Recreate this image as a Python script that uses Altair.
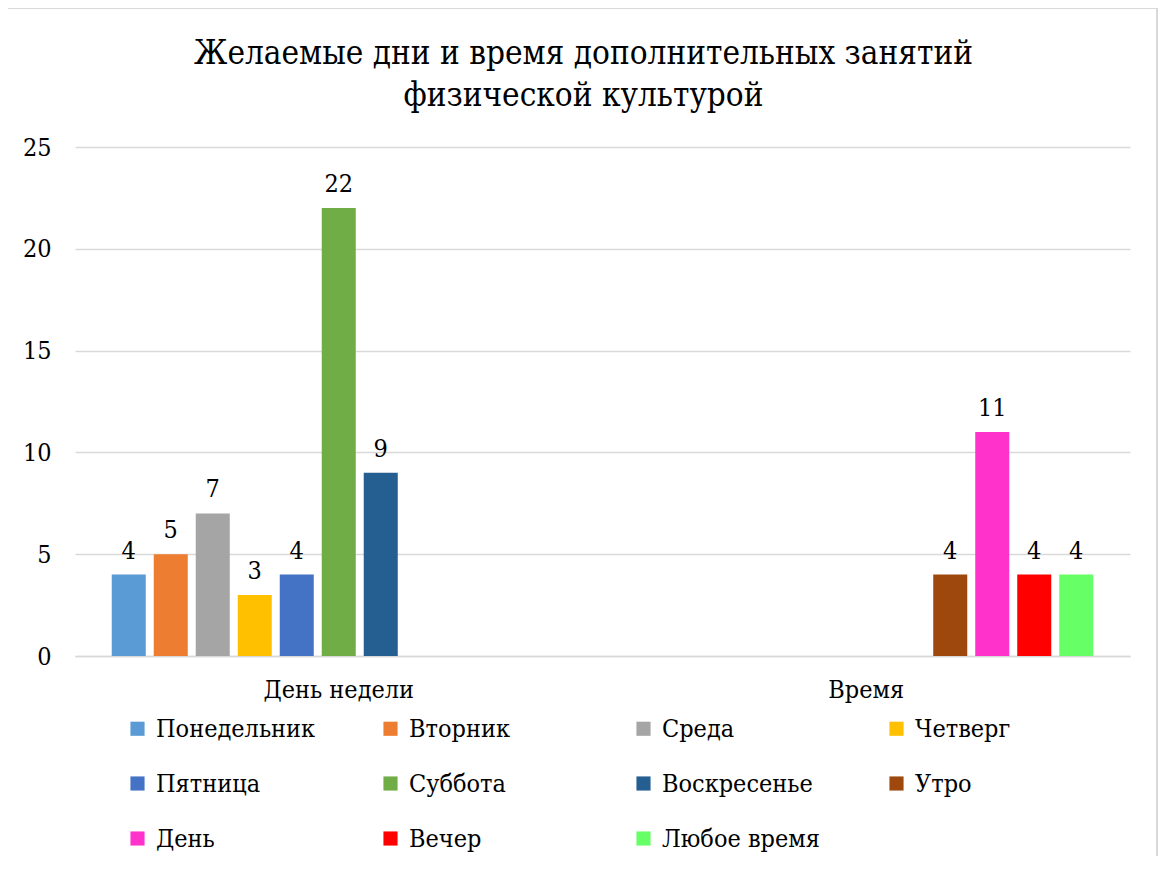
import altair as alt
import pandas as pd

categories = ["День недели", "Время"]
series = ["Понедельник", "Вторник", "Среда", "Четверг", "Пятница", "Суббота",
          "Воскресенье", "Утро", "День", "Вечер", "Любое время"]
colors = ["#5B9BD5", "#ED7D31", "#A5A5A5", "#FFC000", "#4472C4", "#70AD47",
          "#255E91", "#9E480E", "#FF33CC", "#FF0000", "#66FF66"]
day_values = [4, 5, 7, 3, 4, 22, 9, None, None, None, None]
time_values = [None, None, None, None, None, None, None, 4, 11, 4, 4]
title_lines = ["Желаемые дни и время дополнительных занятий", "физической культурой"]

rows = []
for cat, vals in zip(categories, [day_values, time_values]):
    for s, v in zip(series, vals):
        if v is not None:
            rows.append({"cat": cat, "series": s, "value": v})
df = pd.DataFrame(rows)

FONT = "DejaVu Serif Condensed"
FS = 25

x = alt.X("cat:N", sort=categories, title=None,
          scale=alt.Scale(paddingInner=0, paddingOuter=0),
          axis=alt.Axis(labelAngle=0, ticks=False, domain=True, domainColor="#D9D9D9",
                        domainWidth=1.5, labelFontSize=FS, labelFont=FONT, labelColor="#000000",
                        labelPadding=21, grid=False))
xo = alt.XOffset("series:N", sort=series,
                 scale=alt.Scale(domain=series, paddingInner=0.19, paddingOuter=0.875))
y = alt.Y("value:Q", title=None,
          scale=alt.Scale(domain=[0, 25]),
          axis=alt.Axis(values=[0, 5, 10, 15, 20, 25], ticks=False, domain=False,
                        gridColor="#D9D9D9", gridWidth=1.5, labelFontSize=FS, labelFont=FONT,
                        labelColor="#000000", labelPadding=24))

bars = alt.Chart(df).mark_bar().encode(
    x=x, xOffset=xo, y=y,
    color=alt.Color("series:N", sort=series,
                    scale=alt.Scale(domain=series, range=colors),
                    legend=alt.Legend(title=None, orient="none", legendX=50, legendY=569,
                                      columns=4, direction="horizontal", gridAlign="all",
                                      columnPadding=62, rowPadding=29,
                                      symbolType="square", symbolSize=200, symbolStrokeWidth=0,
                                      symbolOffset=0,
                                      labelFont=FONT, labelFontSize=FS, labelColor="#000000",
                                      labelLimit=300, labelOffset=6)),
)

labels = alt.Chart(df).mark_text(font=FONT, fontSize=FS, color="#000000",
                                 baseline="alphabetic", dy=-16).encode(
    x=x, xOffset=xo, y=y, text=alt.Text("value:Q"))

frame = alt.Chart(df).mark_rect(fill=None, stroke="#D9D9D9", strokeWidth=1.5).encode(
    x=alt.value(-68), x2=alt.value(1082), y=alt.value(-139), y2=alt.value(740))

chart = alt.layer(frame, bars, labels).properties(
    width=1055, height=509,
    autosize=alt.AutoSizeParams(type="none"),
    padding={"left": 67, "top": 139, "right": 28, "bottom": 200},
    title=alt.TitleParams(title_lines,
                          font=FONT, fontSize=33, fontWeight="normal", color="#000000",
                          anchor="middle", dx=-19, offset=0, dy=106, lineHeight=42),
).configure_view(stroke=None)

chart.save("out.html", embed_options={"renderer": "svg", "actions": False})
